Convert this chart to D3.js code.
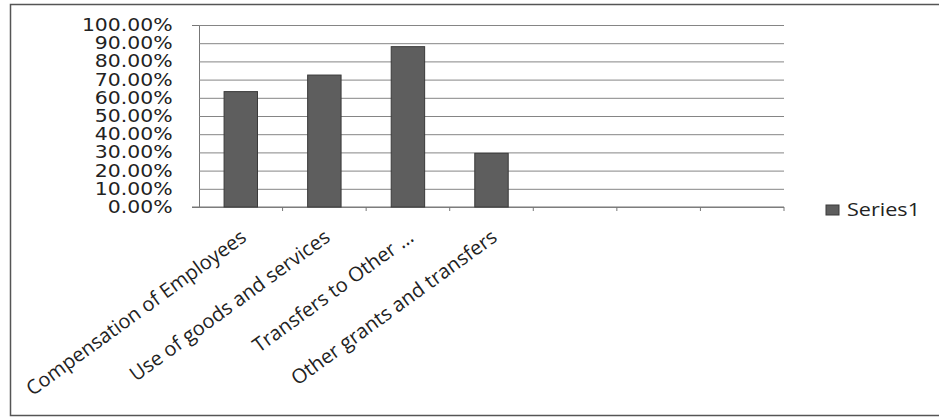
<!DOCTYPE html>
<html>
<head>
<meta charset="utf-8">
<script src="https://cdn.jsdelivr.net/npm/d3@7"></script>
<style>
  body { margin: 0; background: #fff; }
  svg { display: block; }
</style>
</head>
<body>
<div id="chart"></div>
<script>
// Data
const categories = ["Compensation of Employees", "Use of goods and services", "Transfers to Other ...", "Other grants and transfers", "", "", ""];
const values = [0.634, 0.725, 0.881, 0.295];
const yTicks = [0, 0.1, 0.2, 0.3, 0.4, 0.5, 0.6, 0.7, 0.8, 0.9, 1.0];
const seriesName = "Series1";

const W = 939, H = 419;
const margin = { top: 25, right: 155, bottom: 212, left: 199 };
const width = W - margin.left - margin.right;
const height = H - margin.top - margin.bottom;

const svg = d3.select("#chart").append("svg")
  .attr("width", W)
  .attr("height", H);

// outer chart frame
svg.append("rect")
  .attr("x", 10.5).attr("y", 4.5)
  .attr("width", W).attr("height", 411)
  .attr("fill", "none")
  .attr("stroke", "#555")
  .attr("stroke-width", 1.5);

const g = svg.append("g").attr("transform", `translate(${margin.left},${margin.top})`);

// Scales
const x = d3.scaleBand()
  .domain(d3.range(categories.length))
  .range([0, width])
  .paddingInner(0.6)
  .paddingOuter(0.3);
const y = d3.scaleLinear().domain([0, 1]).range([height, 0]);

// Gridlines + y axis
const yAxis = g.append("g")
  .call(d3.axisLeft(y).tickValues(yTicks).tickFormat(d3.format(".2%")).tickSize(7).tickPadding(15));
yAxis.select(".domain").attr("stroke", "#777");
yAxis.selectAll(".tick line")
  .attr("x2", width)
  .attr("stroke", "#858585");
yAxis.selectAll(".tick text")
  .attr("font-family", "DejaVu Sans, Verdana, sans-serif")
  .attr("font-size", 17)
  .attr("fill", "#222")
  .attr("transform", "scale(1.2,1)");

// x axis baseline with ticks at category boundaries
const step = x.step();
const bounds = d3.range(categories.length + 1).map(i => i * step);
g.append("line")
  .attr("x1", -7).attr("x2", width)
  .attr("y1", height).attr("y2", height)
  .attr("stroke", "#777");
g.selectAll(".xtick").data(bounds.slice(1)).join("line")
  .attr("class", "xtick")
  .attr("x1", d => d).attr("x2", d => d)
  .attr("y1", height).attr("y2", height + 4)
  .attr("stroke", "#777");

// Bars
g.selectAll(".bar").data(values).join("rect")
  .attr("class", "bar")
  .attr("x", (d, i) => x(i))
  .attr("y", d => y(d))
  .attr("width", x.bandwidth())
  .attr("height", d => height - y(d))
  .attr("fill", "#5e5e5e")
  .attr("stroke", "#3a3a3a")
  .attr("stroke-width", 1);

// Category labels, rotated
g.selectAll(".xlabel").data(categories.filter(c => c)).join("text")
  .attr("class", "xlabel")
  .attr("text-anchor", "end")
  .attr("font-family", "Open Sans, sans-serif")
  .attr("font-size", 20)
  .attr("fill", "#222")
  .attr("transform", (d, i) => `translate(${x(i) + x.bandwidth() / 2 + 7},${height + 33}) rotate(-36)`)
  .text(d => d);

// Legend
const legend = svg.append("g").attr("transform", "translate(826,205)");
legend.append("rect")
  .attr("width", 13).attr("height", 10)
  .attr("fill", "#5e5e5e")
  .attr("stroke", "#3a3a3a");
legend.append("text")
  .attr("x", 21).attr("y", 11)
  .attr("font-family", "Open Sans, sans-serif")
  .attr("font-size", 18)
  .attr("fill", "#222")
  .attr("transform", "translate(21,0) scale(1.2,1) translate(-21,0)")
  .text(seriesName);
</script>
</body>
</html>
